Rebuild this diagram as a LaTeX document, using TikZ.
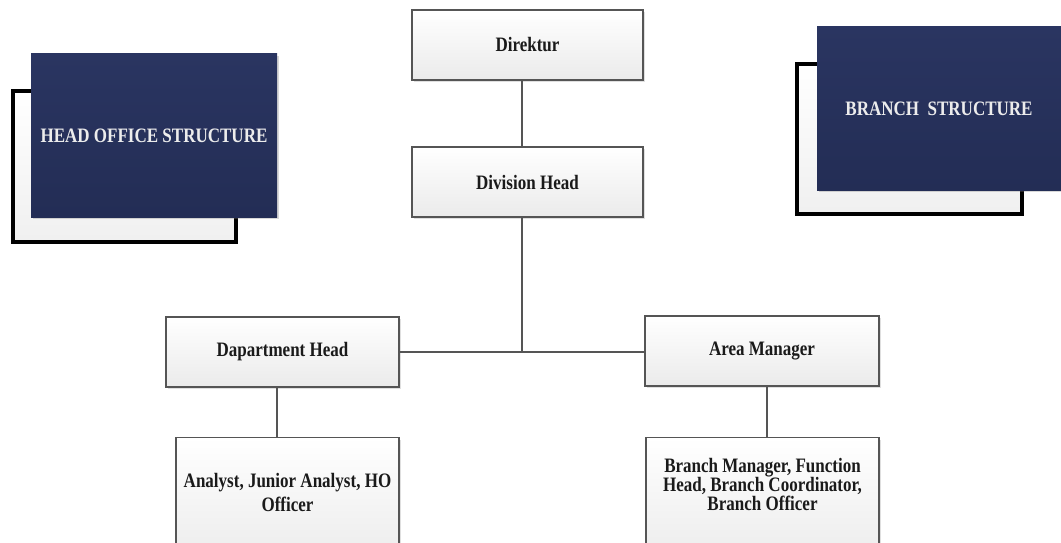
\documentclass[tikz,border=0pt]{standalone}
\usepackage{fontspec}
\setmainfont{Liberation Serif}[FakeStretch=0.83]
\usetikzlibrary{shadows,calc}
\definecolor{navy}{HTML}{232D55}
\definecolor{navytop}{HTML}{2A3561}
\definecolor{linegray}{HTML}{555555}
\definecolor{txtdark}{HTML}{1A1A1A}
\definecolor{titletxt}{HTML}{ECECEC}
\begin{document}
\begin{tikzpicture}[x=1pt,y=-1pt,
  orgbox/.style={draw=linegray, line width=1.2pt, top color=white, bottom color=gray!16,
     drop shadow={shadow xshift=2pt, shadow yshift=-2pt, opacity=0.25}},
  orgtxt/.style={text=txtdark, font=\fontsize{20.5}{24}\selectfont\bfseries, align=center, inner sep=0pt},
  conn/.style={draw=linegray, line width=1.5pt},
  backbox/.style={draw=black, line width=3.5pt, top color=white, bottom color=gray!12,
     drop shadow={shadow xshift=2pt, shadow yshift=-2pt, opacity=0.3}},
  titlebox/.style={top color=navytop, bottom color=navy, draw=none,
     drop shadow={shadow xshift=2pt, shadow yshift=-2pt, opacity=0.3}},
  titletxt/.style={text=titletxt, font=\fontsize{20.5}{24}\selectfont\bfseries, inner sep=0pt}
]
\useasboundingbox (0,0) rectangle (1061,543);
\clip (0,0) rectangle (1061,543);
\fill[white] (0,0) rectangle (1061,543);

% Title panels
\path[backbox] (13,91) rectangle (236,242);
\node[titlebox, minimum width=246pt, minimum height=163pt] (hos) at (154,135.5) {};
\node[titletxt] (hostxt) at (hos.center) {HEAD OFFICE STRUCTURE};

\path[backbox] (797,64) rectangle (1022,214);
\node[titlebox, minimum width=244pt, minimum height=163pt] (bs) at (939,108.5) {};
\node[titletxt] (bstxt) at (bs.center) {BRANCH\ \ STRUCTURE};

% Org chart nodes
\node[orgbox, orgtxt, minimum width=231pt, minimum height=70pt] (dir) at (527.5,45) {Direktur};
\node[orgbox, orgtxt, minimum width=231pt, minimum height=70pt] (div) at (527.5,182) {Division Head};
\node[orgbox, orgtxt, minimum width=233pt, minimum height=70pt] (dept) at (282.5,352) {Dapartment Head};
\node[orgbox, orgtxt, minimum width=234pt, minimum height=70pt] (area) at (762,351) {Area Manager};
\node[orgbox, minimum width=223pt, minimum height=130pt, anchor=north] (ana) at (287.5,437) {};
\node[orgtxt] (anatxt) at (287.5,492) {Analyst, Junior Analyst, HO\\Officer};
\node[orgbox, minimum width=233pt, minimum height=130pt, anchor=north] (bm) at (762.5,437) {};
\node[orgtxt, font=\fontsize{20.5}{19}\selectfont\bfseries] (bmtxt) at (762.5,484) {Branch Manager, Function\\Head, Branch Coordinator,\\Branch Officer};

% Connectors
\coordinate (dirb) at ($(dir.south)+(-5.5,0)$);
\coordinate (divb) at ($(div.south)+(-5.5,0)$);
\coordinate (deptb) at ($(dept.south)+(-5.5,0)$);
\coordinate (areab) at ($(area.south)+(5,0)$);
\coordinate (junc) at (divb |- dept.east);
\draw[conn] (dirb) -- (dirb |- div.north);
\draw[conn] (divb) -- (junc);
\draw[conn] (dept.east) -- (dept.east -| area.west);
\draw[conn] (deptb) -- (deptb |- ana.north);
\draw[conn] (areab) -- (areab |- bm.north);
\end{tikzpicture}
\end{document}
